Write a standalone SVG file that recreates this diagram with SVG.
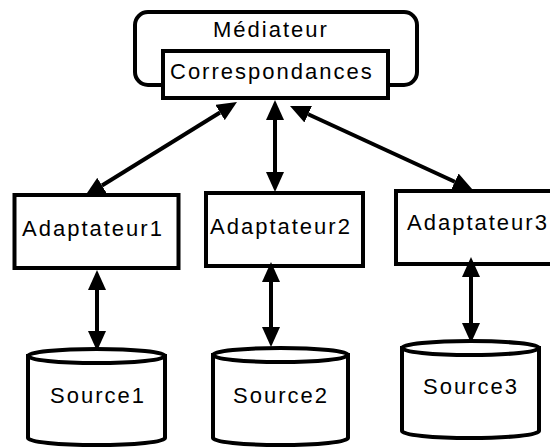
<svg xmlns="http://www.w3.org/2000/svg" width="550" height="447" viewBox="0 0 550 447">
<defs>
<style>
.shape{fill:#fff;stroke:#000;stroke-width:4}
.lbl{font-family:"Liberation Sans",Arial,Helvetica,sans-serif;font-size:22px;letter-spacing:2px;fill:#000}
.conn{stroke:#000;stroke-width:4;fill:none;marker-start:url(#ah);marker-end:url(#ah)}
</style>
<marker id="ah" markerUnits="userSpaceOnUse" markerWidth="20" markerHeight="18" refX="0" refY="9" orient="auto-start-reverse" viewBox="0 0 20 18">
<path d="M0,0 L20,9 L0,18 Z" fill="#000"/>
</marker>
</defs>
<rect width="550" height="447" fill="#fff"/>
<g id="mediateur">
<rect class="shape" x="135" y="12" width="282" height="73" rx="13" ry="13"/>
<text class="lbl" x="213" y="37">Médiateur</text>
</g>
<g id="correspondances">
<rect class="shape" x="163" y="51" width="225" height="47"/>
<text class="lbl" x="170" y="79">Correspondances</text>
</g>
<g id="adaptateur1">
<rect class="shape" x="14.5" y="195" width="164" height="73"/>
<text class="lbl" x="22" y="236">Adaptateur1</text>
</g>
<g id="adaptateur2">
<rect class="shape" x="206" y="193" width="157" height="73"/>
<text class="lbl" x="210" y="234">Adaptateur2</text>
</g>
<g id="adaptateur3">
<rect class="shape" x="396" y="191" width="170" height="73"/>
<text class="lbl" x="407" y="230">Adaptateur3</text>
</g>
<g id="source1">
<path class="shape" d="M28,356 L28,438 A68.5,7 0 0 0 165,438 L165,356 Z"/>
<ellipse class="shape" cx="96.5" cy="356" rx="68.5" ry="7"/>
<text class="lbl" x="50" y="403">Source1</text>
</g>
<g id="source2">
<path class="shape" d="M213,355 L213,438 A67.5,7 0 0 0 348,438 L348,355 Z"/>
<ellipse class="shape" cx="280.5" cy="355" rx="67.5" ry="7"/>
<text class="lbl" x="233" y="403">Source2</text>
</g>
<g id="source3">
<path class="shape" d="M402,348 L402,431 A68.5,7 0 0 0 539,431 L539,348 Z"/>
<ellipse class="shape" cx="470.5" cy="348" rx="68.5" ry="7"/>
<text class="lbl" x="423" y="394">Source3</text>
</g>
<g id="connectors">
<line class="conn" x1="220" y1="112.5" x2="102" y2="185.5"/>
<line class="conn" x1="275" y1="120" x2="275" y2="172"/>
<line class="conn" x1="308.2" y1="114.3" x2="454.8" y2="181.7"/>
<line class="conn" x1="97" y1="290" x2="97" y2="331"/>
<line class="conn" x1="271" y1="282" x2="271" y2="327"/>
<line class="conn" x1="471" y1="277" x2="471" y2="323"/>
</g>
</svg>
